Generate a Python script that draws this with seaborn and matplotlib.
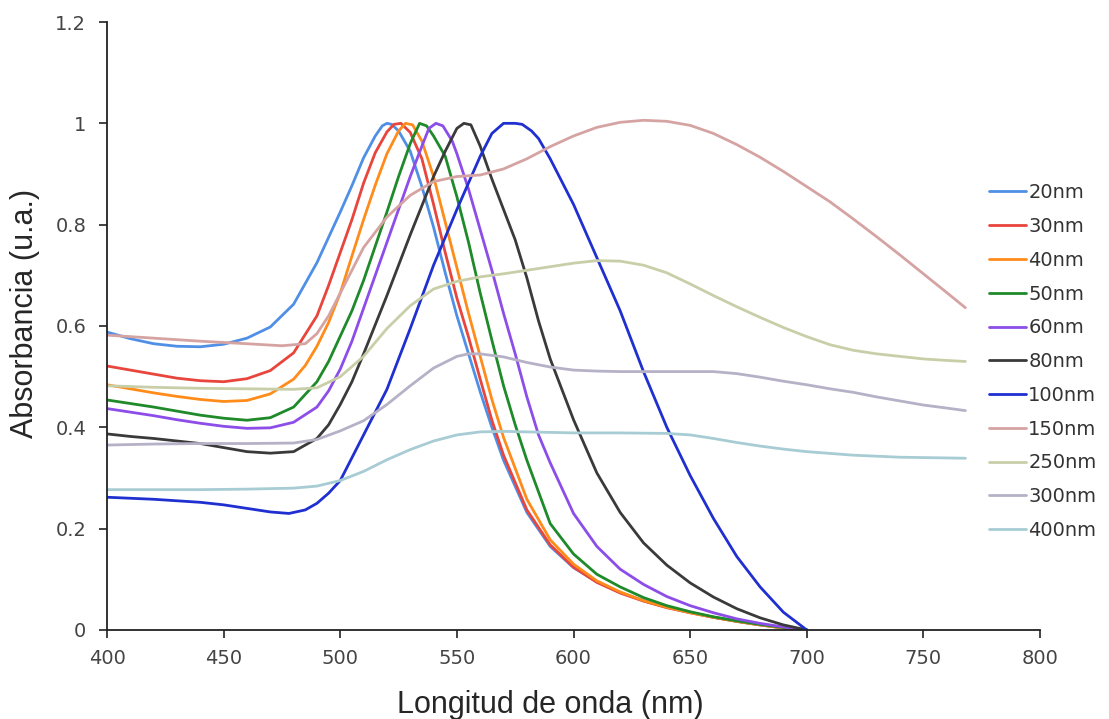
import matplotlib
matplotlib.use("Agg")
import matplotlib.pyplot as plt
import seaborn as sns
import pandas as pd

sns.set_theme(style="white")
plt.rcParams['font.family'] = ['DejaVu Sans']

# --- data (wavelength nm, absorbance a.u.) ---
wl_20 = [400, 410, 420, 430, 440, 450, 460, 470, 480, 490, 500, 505, 510, 515, 518, 520, 522, 525, 530, 535,
         540, 545, 550, 555, 560, 565, 570, 580, 590, 600, 610, 620, 630, 640, 650, 660, 670, 680, 690, 700]
ab_20 = [0.588, 0.575, 0.565, 0.560, 0.559, 0.564, 0.576, 0.598, 0.643, 0.725, 0.825, 0.877, 0.932, 0.975, 0.995, 1.0, 0.998, 0.985, 0.945, 0.875,
         0.795, 0.705, 0.62, 0.545, 0.47, 0.40, 0.335, 0.232, 0.165, 0.123, 0.095, 0.074, 0.058, 0.045, 0.035, 0.025, 0.017, 0.010, 0.004, 0.0]

wl_30 = [400, 410, 420, 430, 440, 450, 460, 470, 480, 490, 495, 500, 505, 510, 515, 520, 523, 526, 530, 535,
         540, 545, 550, 555, 560, 565, 570, 580, 590, 600, 610, 620, 630, 640, 650, 660, 670, 680, 690, 700]
ab_30 = [0.521, 0.513, 0.505, 0.497, 0.492, 0.490, 0.496, 0.512, 0.547, 0.62, 0.68, 0.745, 0.81, 0.882, 0.942, 0.983, 0.998, 1.0, 0.982, 0.93,
         0.84, 0.745, 0.655, 0.578, 0.495, 0.414, 0.345, 0.237, 0.168, 0.124, 0.094, 0.073, 0.057, 0.044, 0.034, 0.025, 0.017, 0.010, 0.004, 0.0]

wl_40 = [400, 410, 420, 430, 440, 450, 460, 470, 480, 485, 490, 495, 500, 505, 510, 515, 520, 525, 528, 531, 535,
         540, 545, 550, 555, 560, 565, 570, 580, 590, 600, 610, 620, 630, 640, 650, 660, 670, 680, 690, 700]
ab_40 = [0.484, 0.476, 0.468, 0.461, 0.455, 0.451, 0.453, 0.466, 0.495, 0.522, 0.56, 0.607, 0.665, 0.738, 0.81, 0.878, 0.94, 0.985, 1.0, 0.997, 0.965,
         0.895, 0.805, 0.715, 0.625, 0.54, 0.455, 0.38, 0.258, 0.178, 0.13, 0.097, 0.075, 0.058, 0.045, 0.034, 0.025, 0.017, 0.010, 0.004, 0.0]

wl_50 = [400, 410, 420, 430, 440, 450, 460, 470, 480, 490, 495, 500, 505, 510, 520, 525, 530, 534, 537, 540,
         545, 550, 555, 560, 565, 570, 575, 580, 590, 600, 610, 620, 630, 640, 650, 660, 670, 680, 690, 700]
ab_50 = [0.454, 0.447, 0.44, 0.432, 0.424, 0.418, 0.414, 0.419, 0.44, 0.49, 0.53, 0.58, 0.63, 0.69, 0.825, 0.895, 0.96, 1.0, 0.995, 0.975,
         0.935, 0.855, 0.765, 0.665, 0.572, 0.482, 0.405, 0.335, 0.21, 0.15, 0.11, 0.085, 0.064, 0.048, 0.036, 0.026, 0.018, 0.011, 0.005, 0.0]

wl_60 = [400, 410, 420, 430, 440, 450, 460, 470, 480, 490, 495, 500, 505, 510, 520, 530, 535, 538, 541, 544, 548,
         550, 555, 560, 565, 570, 575, 580, 585, 590, 600, 610, 620, 630, 640, 650, 660, 670, 680, 690, 700]
ab_60 = [0.437, 0.43, 0.423, 0.415, 0.408, 0.402, 0.398, 0.399, 0.41, 0.44, 0.472, 0.515, 0.57, 0.635, 0.765, 0.895, 0.955, 0.99, 1.0, 0.995, 0.965,
         0.94, 0.87, 0.79, 0.71, 0.625, 0.545, 0.46, 0.385, 0.33, 0.23, 0.165, 0.12, 0.09, 0.066, 0.048, 0.034, 0.022, 0.013, 0.006, 0.0]

wl_80 = [400, 410, 420, 430, 440, 450, 460, 470, 480, 490, 495, 500, 505, 510, 520, 530, 540, 545, 550, 553,
         556, 560, 565, 570, 575, 580, 585, 590, 595, 600, 610, 620, 630, 640, 650, 660, 670, 680, 690, 700]
ab_80 = [0.387, 0.382, 0.378, 0.373, 0.368, 0.36, 0.352, 0.349, 0.352, 0.378, 0.405, 0.445, 0.49, 0.545, 0.66, 0.78, 0.895, 0.945, 0.99, 1.0,
         0.997, 0.955, 0.89, 0.83, 0.77, 0.695, 0.61, 0.535, 0.475, 0.415, 0.31, 0.232, 0.172, 0.128, 0.093, 0.065, 0.042, 0.024, 0.01, 0.0]

wl_100 = [400, 410, 420, 430, 440, 450, 460, 470, 478, 485, 490, 495, 500, 510, 520, 530, 540, 550, 560, 565,
          570, 575, 578, 582, 585, 590, 600, 610, 620, 630, 640, 650, 660, 670, 680, 690, 700]
ab_100 = [0.262, 0.26, 0.258, 0.255, 0.252, 0.247, 0.24, 0.233, 0.23, 0.237, 0.25, 0.27, 0.295, 0.385, 0.475, 0.595, 0.72, 0.83, 0.935, 0.98,
          1.0, 1.0, 0.998, 0.985, 0.97, 0.93, 0.84, 0.735, 0.63, 0.51, 0.40, 0.305, 0.22, 0.145, 0.085, 0.035, 0.0]

wl_150 = [400, 420, 440, 460, 475, 485, 490, 495, 500, 510, 520, 530, 540, 550, 560, 570, 580, 590, 600, 610,
          620, 630, 640, 650, 660, 670, 680, 690, 700, 710, 720, 730, 740, 750, 760, 768]
ab_150 = [0.582, 0.576, 0.570, 0.565, 0.561, 0.565, 0.585, 0.62, 0.665, 0.755, 0.815, 0.858, 0.885, 0.895, 0.898, 0.91, 0.93, 0.954, 0.975, 0.992,
          1.002, 1.006, 1.004, 0.996, 0.98, 0.958, 0.933, 0.905, 0.875, 0.845, 0.811, 0.776, 0.74, 0.703, 0.666, 0.636]

wl_250 = [400, 420, 440, 460, 480, 490, 500, 510, 520, 530, 540, 550, 560, 570, 580, 590, 600, 610, 620, 630,
          640, 650, 660, 670, 680, 690, 700, 710, 720, 730, 740, 750, 760, 768]
ab_250 = [0.482, 0.479, 0.477, 0.476, 0.475, 0.478, 0.50, 0.54, 0.595, 0.64, 0.673, 0.688, 0.697, 0.703, 0.71, 0.717, 0.724, 0.729, 0.728, 0.72,
          0.705, 0.683, 0.66, 0.638, 0.617, 0.597, 0.579, 0.563, 0.552, 0.545, 0.54, 0.535, 0.532, 0.53]

wl_300 = [400, 420, 440, 460, 480, 490, 500, 510, 520, 530, 540, 550, 555, 560, 570, 580, 590, 600, 610, 620,
          640, 660, 670, 680, 690, 700, 710, 720, 730, 740, 750, 760, 768]
ab_300 = [0.365, 0.367, 0.368, 0.368, 0.369, 0.376, 0.393, 0.413, 0.445, 0.482, 0.517, 0.54, 0.545, 0.545, 0.539, 0.528, 0.519, 0.513, 0.511, 0.51,
          0.51, 0.51, 0.506, 0.499, 0.491, 0.484, 0.476, 0.469, 0.46, 0.452, 0.444, 0.438, 0.433]

wl_400 = [400, 420, 440, 460, 480, 490, 500, 510, 520, 530, 540, 550, 560, 570, 580, 590, 600, 620, 640, 650,
          660, 670, 680, 690, 700, 720, 740, 768]
ab_400 = [0.277, 0.277, 0.277, 0.278, 0.28, 0.284, 0.295, 0.313, 0.336, 0.356, 0.373, 0.385, 0.391, 0.392, 0.391, 0.39, 0.389, 0.389, 0.388, 0.385,
          0.378, 0.37, 0.363, 0.357, 0.352, 0.345, 0.341, 0.339]

sizes = ['20nm', '30nm', '40nm', '50nm', '60nm', '80nm', '100nm', '150nm', '250nm', '300nm', '400nm']
colors = ['#4f8fe6', '#e8453c', '#ff8c1a', '#1e8a2a', '#8c4de8', '#3a3a3a', '#1f2fd0',
          '#d6a3a3', '#c8cfa8', '#b6b1c6', '#a8ccd4']
wl_all = [wl_20, wl_30, wl_40, wl_50, wl_60, wl_80, wl_100, wl_150, wl_250, wl_300, wl_400]
ab_all = [ab_20, ab_30, ab_40, ab_50, ab_60, ab_80, ab_100, ab_150, ab_250, ab_300, ab_400]

yticks = [0, 0.2, 0.4, 0.6, 0.8, 1.0, 1.2]
ytick_labels = ['0', '0.2', '0.4', '0.6', '0.8', '1', '1.2']
xticks = [400, 450, 500, 550, 600, 650, 700, 750, 800]

df = pd.concat([pd.DataFrame({'wl': w, 'abs': a, 'size': s})
                for w, a, s in zip(wl_all, ab_all, sizes)], ignore_index=True)
palette = dict(zip(sizes, colors))

fig = plt.figure(figsize=(11.09, 7.19), dpi=100)
ax = fig.add_axes([0.0965, 0.1238, 0.8413, 0.8456])

sns.lineplot(ax=ax, data=df, x='wl', y='abs', hue='size', hue_order=sizes,
             palette=palette, sort=False, estimator=None, linewidth=2.0)

ax.set(xlim=(400, 800), ylim=(0, 1.2))
ax.set_xticks(xticks)
ax.set_yticks(yticks)
ax.set_yticklabels(ytick_labels)
for s in ['top', 'right']:
    ax.spines[s].set_visible(False)
for s in ['left', 'bottom']:
    ax.spines[s].set_color('#222222')
    ax.spines[s].set_linewidth(1.3)
ax.tick_params(axis='both', direction='out', length=6, width=1.2, color='#222222',
               labelsize=14, labelcolor='#444444', left=True, bottom=True)
ax.tick_params(axis='y', pad=9)
ax.tick_params(axis='x', pad=8)

ax.set_xlabel('Longitud de onda (nm)', fontsize=22, family=['Liberation Sans', 'DejaVu Sans'])
ax.set_ylabel('Absorbancia (u.a.)', fontsize=22, family=['Liberation Sans', 'DejaVu Sans'])
ax.xaxis.set_label_coords(0.475, -0.123)
ax.yaxis.set_label_coords(-0.088, 0.52)
ax.xaxis.label.set_va('center')
ax.yaxis.label.set_va('center')

handles, labels = ax.get_legend_handles_labels()
leg = ax.legend(handles=handles, labels=labels, loc='upper left', bbox_to_anchor=(0.885, 0.756),
                bbox_transform=fig.transFigure, frameon=False, fontsize=14,
                handlelength=1.9, handletextpad=0.1, labelspacing=0.76, borderaxespad=0)
for t in leg.get_texts():
    t.set_color('#333333')

fig.savefig('out.png', dpi=100)
